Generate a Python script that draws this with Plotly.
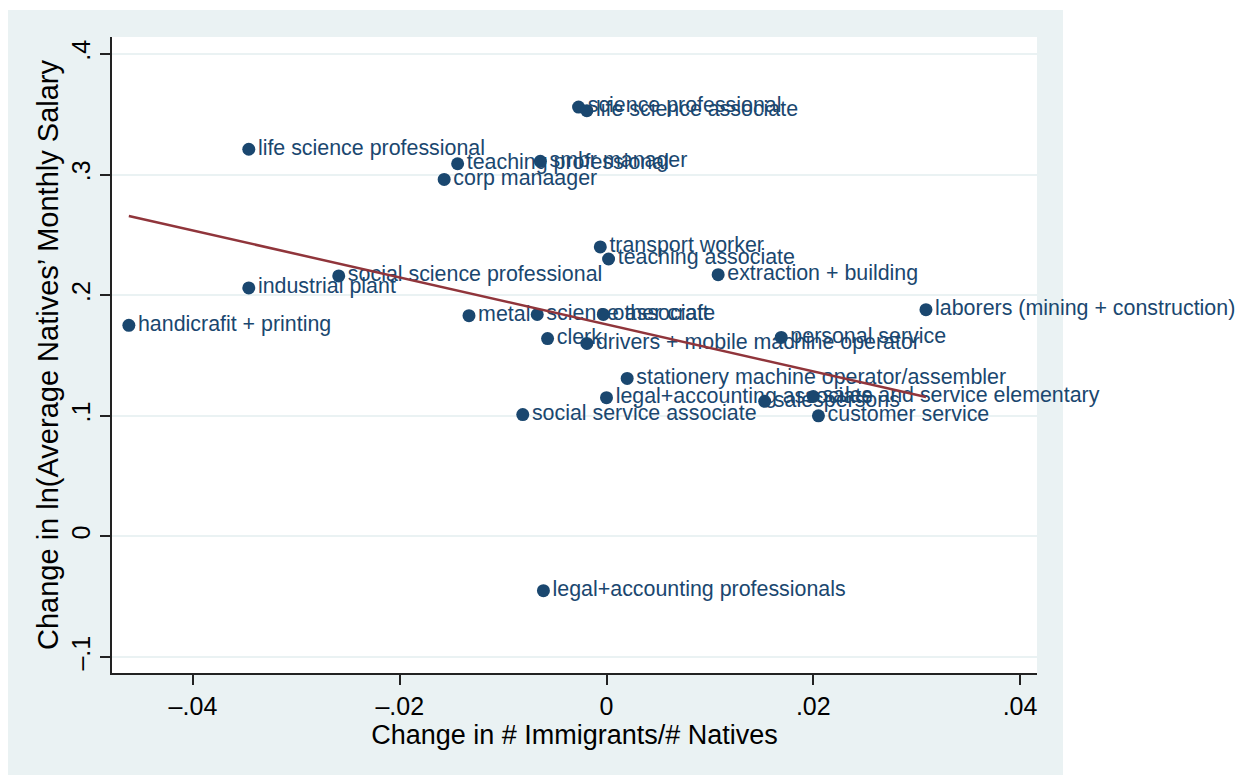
import plotly.graph_objects as go

# Ocupaciones (etiquetas de los puntos)
occupations = [
    "science professional", "life science associate", "life science professional",
    "teaching professional", "smbr manager", "corp manaager", "transport worker",
    "teaching associate", "extraction + building", "social science professional",
    "industrial plant", "laborers (mining + construction)", "handicrafit + printing",
    "metal", "science associate", "other craft", "clerk",
    "drivers + mobile machine operator", "personal service",
    "stationery machine operator/assembler", "legal+accounting associate",
    "salespersons", "sales and service elementary", "customer service",
    "social service associate", "legal+accounting professionals",
]

# Cambio en # inmigrantes / # nativos
immig_change = [
    -0.0027, -0.0019, -0.0346, -0.0144, -0.0064, -0.0157, -0.0006,
    0.0002, 0.0108, -0.0259, -0.0346, 0.0309, -0.0462,
    -0.0133, -0.0067, -0.0003, -0.0057, -0.0019, 0.0169,
    0.0020, 0.0000, 0.0153, 0.0200, 0.0205, -0.0081, -0.0061,
]

# Cambio en ln(salario mensual promedio de nativos)
wage_change = [
    0.356, 0.353, 0.321, 0.309, 0.311, 0.296, 0.240,
    0.230, 0.217, 0.216, 0.206, 0.188, 0.175,
    0.183, 0.184, 0.184, 0.164, 0.160, 0.165,
    0.131, 0.115, 0.112, 0.116, 0.100, 0.101, -0.045,
]

# Extremos de la recta ajustada
fit_x = [-0.0462, 0.0309]
fit_y = [0.2657, 0.1156]

x_ticks = [-0.04, -0.02, 0, 0.02, 0.04]
x_ticktext = ["\u2013.04", "\u2013.02", "0", ".02", ".04"]
y_ticks = [-0.1, 0, 0.1, 0.2, 0.3, 0.4]
y_ticktext = ["\u2013.1", "0", ".1", ".2", ".3", ".4"]

NAVY = "#1A476F"
MAROON = "#90353B"
BG = "#EAF2F3"
FONT = "Liberation Sans, Arial, sans-serif"

fig = go.Figure()

# Puntos con etiqueta a la derecha
fig.add_trace(go.Scatter(
    x=immig_change,
    y=wage_change,
    mode="markers+text",
    text=occupations,
    textposition="middle right",
    textfont=dict(family=FONT, size=21.4, color=NAVY),
    marker=dict(color=NAVY, size=13),
    showlegend=False,
    cliponaxis=False,
))

# Línea ajustada encima
fig.add_trace(go.Scatter(
    x=fit_x,
    y=fit_y,
    mode="lines",
    line=dict(color=MAROON, width=2.5),
    showlegend=False,
))

# Fondo gris exterior y región blanca del gráfico
fig.add_shape(type="rect", xref="paper", yref="paper",
              x0=-0.1124, x1=1.0281, y0=-0.1604, y1=1.0425,
              fillcolor=BG, line_width=0, layer="below")
fig.add_shape(type="rect", xref="paper", yref="paper",
              x0=0, x1=1, y0=0, y1=1,
              fillcolor="white", line_width=0, layer="below")

fig.update_layout(
    width=1246,
    height=769,
    margin=dict(l=104, r=217, t=29, b=104),
    paper_bgcolor="white",
    plot_bgcolor="white",
    font=dict(family=FONT, color="black"),
    xaxis=dict(
        range=[-0.04783, 0.04164],
        tickvals=x_ticks,
        ticktext=x_ticktext,
        tickfont=dict(size=25),
        ticks="outside", ticklen=10, tickwidth=1.5, tickcolor="#222",
        showline=True, linecolor="#222", linewidth=2,
        showgrid=False, zeroline=False,
        title=dict(text="Change in # Immigrants/# Natives", font=dict(size=27), standoff=0),
    ),
    yaxis=dict(
        range=[-0.1133, 0.4141],
        tickvals=y_ticks,
        ticktext=y_ticktext,
        tickangle=-90,
        tickfont=dict(size=25),
        ticks="outside", ticklen=10, tickwidth=1.5, tickcolor="#222",
        showline=True, linecolor="#222", linewidth=2,
        showgrid=True, gridcolor=BG, gridwidth=2,
        zeroline=False,
        title=dict(text="Change in ln(Average Natives\u2019 Monthly Salary", font=dict(size=29), standoff=0),
    ),
)

fig.write_html("out.html")
